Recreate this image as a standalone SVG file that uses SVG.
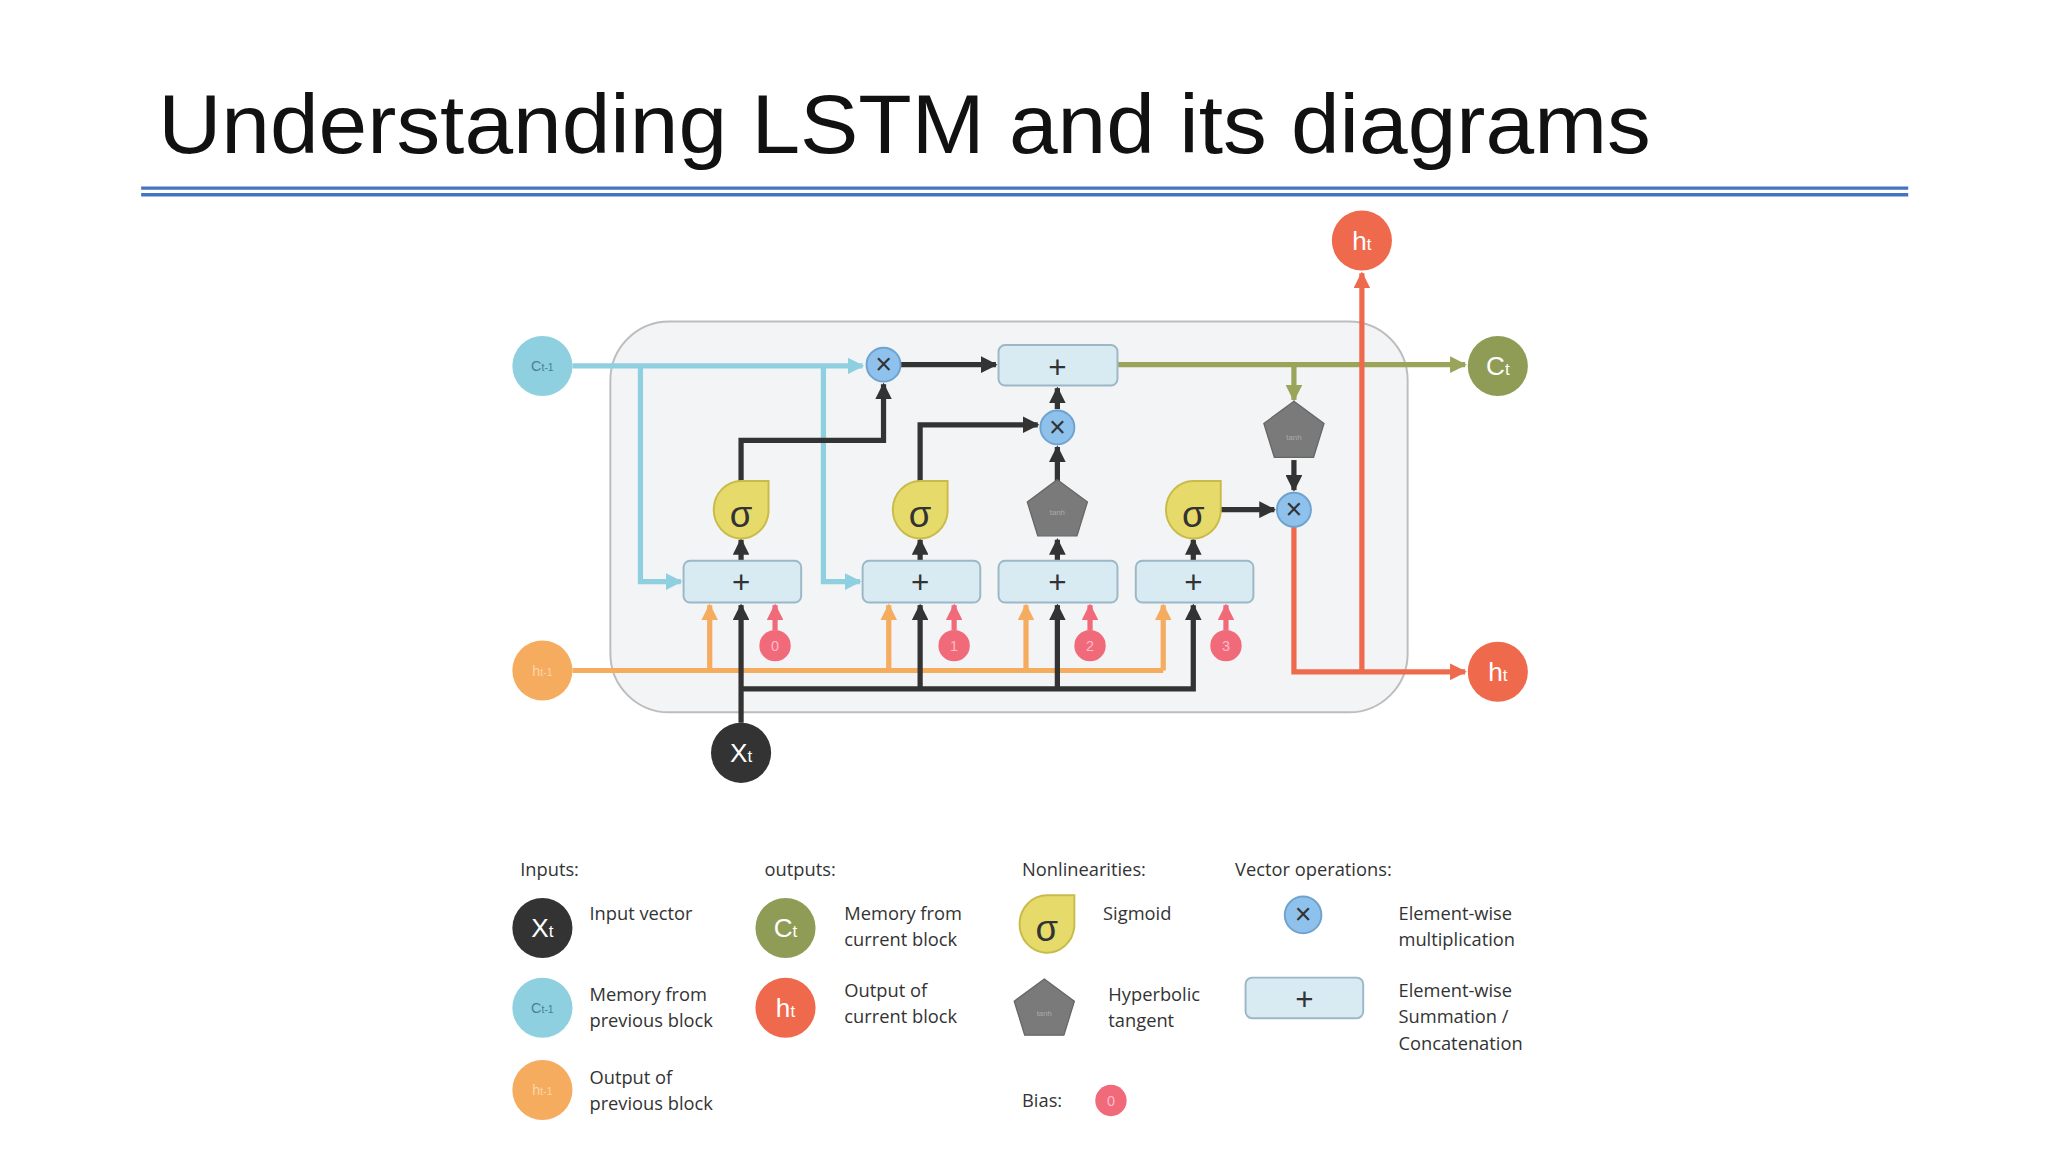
<svg xmlns="http://www.w3.org/2000/svg" width="2048" height="1152" viewBox="0 0 2048 1152">
<style>
text{font-family:"Liberation Sans","DejaVu Sans",sans-serif}
.lg{font-family:"Open Sans","Liberation Sans",sans-serif;font-size:14px;fill:#333}
.ln{fill:none;stroke-width:4;stroke-linejoin:miter}
.bl{stroke:#8fd0e0}.bk{stroke:#333}.ol{stroke:#9aa55a}.rd{stroke:#ef6a4c}.or{stroke:#f5ac5e}.pk{stroke:#f06a7a}
.box{fill:#d8ebf3;stroke:#9cb8c6;stroke-width:1.5}
.sig{fill:#e6db6a;stroke:#c9bb4a;stroke-width:1.5}
.pent{fill:#7a7a7a;stroke:#666;stroke-width:1}
.mul{fill:#8ec2ec;stroke:#6fa3cf;stroke-width:1.5}
.bias{fill:#f06a7a}
.ct{fill:#fff;text-anchor:middle}
.x{font-size:22px;fill:#333;text-anchor:middle}
</style>
<defs>
<marker id="aBl" viewBox="0 0 10 10" refX="9" refY="5" markerWidth="3.2" markerHeight="3.2" orient="auto" markerUnits="strokeWidth"><path d="M0,0L10,5L0,10z" fill="#8fd0e0"/></marker>
<marker id="aBk" viewBox="0 0 10 10" refX="9" refY="5" markerWidth="3.2" markerHeight="3.2" orient="auto" markerUnits="strokeWidth"><path d="M0,0L10,5L0,10z" fill="#333"/></marker>
<marker id="aOl" viewBox="0 0 10 10" refX="9" refY="5" markerWidth="3.2" markerHeight="3.2" orient="auto" markerUnits="strokeWidth"><path d="M0,0L10,5L0,10z" fill="#9aa55a"/></marker>
<marker id="aRd" viewBox="0 0 10 10" refX="9" refY="5" markerWidth="3.2" markerHeight="3.2" orient="auto" markerUnits="strokeWidth"><path d="M0,0L10,5L0,10z" fill="#ef6a4c"/></marker>
<marker id="aOr" viewBox="0 0 10 10" refX="9" refY="5" markerWidth="3.2" markerHeight="3.2" orient="auto" markerUnits="strokeWidth"><path d="M0,0L10,5L0,10z" fill="#f5ac5e"/></marker>
<marker id="aPk" viewBox="0 0 10 10" refX="9" refY="5" markerWidth="3.2" markerHeight="3.2" orient="auto" markerUnits="strokeWidth"><path d="M0,0L10,5L0,10z" fill="#f06a7a"/></marker>
<path id="sigShape" d="M0,-24 L21,-24 L21,0 A21,22 0 1 1 0,-24 Z"/>
<polygon id="pentShape" points="0,-23 23,-6 15,20 -15,20 -23,-6"/>
</defs>
<rect width="2048" height="1152" fill="#fff"/>
<g transform="scale(1.307)">
<g id="title">
<text x="121" y="117" font-size="64" fill="#111" textLength="1142" lengthAdjust="spacingAndGlyphs">Understanding LSTM and its diagrams</text>
<line x1="108" y1="144" x2="1460" y2="144" stroke="#4472c4" stroke-width="2.5"/>
<line x1="108" y1="149" x2="1460" y2="149" stroke="#4472c4" stroke-width="2.5"/>
</g>
<g id="cell"><rect x="467" y="246" width="610" height="299" rx="45" fill="#f3f4f6" stroke="#bdbdbd" stroke-width="1.5"/></g>
<g id="connectors">
<path class="ln bl" d="M438,280 H660" marker-end="url(#aBl)"/>
<path class="ln bl" d="M490,280 V445 H521" marker-end="url(#aBl)"/>
<path class="ln bl" d="M630,280 V445 H658" marker-end="url(#aBl)"/>
<path class="ln bk" d="M689,279 H762" marker-end="url(#aBk)"/>
<path class="ln bk" d="M567,368 V337 H676 V294" marker-end="url(#aBk)"/>
<path class="ln bk" d="M704,368 V325 H794" marker-end="url(#aBk)"/>
<path class="ln bk" d="M809,368 V342" marker-end="url(#aBk)"/>
<path class="ln bk" d="M809,313 V297" marker-end="url(#aBk)"/>
<path class="ln bk" d="M567,429 V413" marker-end="url(#aBk)"/>
<path class="ln bk" d="M704,429 V413" marker-end="url(#aBk)"/>
<path class="ln bk" d="M809,429 V413" marker-end="url(#aBk)"/>
<path class="ln bk" d="M913,429 V413" marker-end="url(#aBk)"/>
<path class="ln bk" d="M934,390 H975" marker-end="url(#aBk)"/>
<path class="ln bk" d="M990,352 V375" marker-end="url(#aBk)"/>
<path class="ln ol" d="M855,279 H1121" marker-end="url(#aOl)"/>
<path class="ln ol" d="M990,279 V306" marker-end="url(#aOl)"/>
<path class="ln rd" d="M990,403 V514 H1121" marker-end="url(#aRd)"/>
<path class="ln rd" d="M1042,514 V209" marker-end="url(#aRd)"/>
<path class="ln or" d="M438,513 H890"/>
<path class="ln or" d="M543,513 V463" marker-end="url(#aOr)"/>
<path class="ln or" d="M680,513 V463" marker-end="url(#aOr)"/>
<path class="ln or" d="M785,513 V463" marker-end="url(#aOr)"/>
<path class="ln or" d="M890,513 V463" marker-end="url(#aOr)"/>
<path class="ln bk" d="M567,553 V463" marker-end="url(#aBk)"/>
<path class="ln bk" d="M567,527 H913 V463" marker-end="url(#aBk)"/>
<path class="ln bk" d="M704,527 V463" marker-end="url(#aBk)"/>
<path class="ln bk" d="M809,527 V463" marker-end="url(#aBk)"/>
<path class="ln pk" d="M593,482 V463" marker-end="url(#aPk)"/>
<path class="ln pk" d="M730,482 V463" marker-end="url(#aPk)"/>
<path class="ln pk" d="M834,482 V463" marker-end="url(#aPk)"/>
<path class="ln pk" d="M938,482 V463" marker-end="url(#aPk)"/>
</g>
<g id="inputs">
<g id="n-ct1"><circle cx="415" cy="280" r="23" fill="#8fd0e0"/><text x="415" y="284" font-size="11" fill="#4a7f92" text-anchor="middle">C<tspan font-size="8">t-1</tspan></text></g>
<g id="n-ht1"><circle cx="415" cy="513" r="23" fill="#f5ac5e"/><text x="415" y="517" font-size="11" fill="#fbd6a8" text-anchor="middle">h<tspan font-size="8">t-1</tspan></text></g>
<g id="n-xt"><circle cx="567" cy="576" r="23" fill="#333"/><text class="ct" x="567" y="583" font-size="20">X<tspan font-size="13">t</tspan></text></g>
<g id="n-ct"><circle cx="1146" cy="280" r="23" fill="#8f9c55"/><text class="ct" x="1146" y="287" font-size="20">C<tspan font-size="13">t</tspan></text></g>
<g id="n-ht"><circle cx="1146" cy="514" r="23" fill="#ef6a4c"/><text class="ct" x="1146" y="521" font-size="20">h<tspan font-size="13">t</tspan></text></g>
<g id="n-httop"><circle cx="1042" cy="184" r="23" fill="#ef6a4c"/><text class="ct" x="1042" y="191" font-size="20">h<tspan font-size="13">t</tspan></text></g>
</g>
<g id="ops">
<g id="p-top"><rect class="box" x="764" y="264" width="91" height="31" rx="5"/><text x="809" y="289" font-size="24" fill="#333" text-anchor="middle">+</text></g>
<g id="p1"><rect class="box" x="523" y="429" width="90" height="32" rx="5"/><text x="567" y="454" font-size="24" fill="#333" text-anchor="middle">+</text></g>
<g id="p2"><rect class="box" x="660" y="429" width="90" height="32" rx="5"/><text x="704" y="454" font-size="24" fill="#333" text-anchor="middle">+</text></g>
<g id="p3"><rect class="box" x="764" y="429" width="91" height="32" rx="5"/><text x="809" y="454" font-size="24" fill="#333" text-anchor="middle">+</text></g>
<g id="p4"><rect class="box" x="869" y="429" width="90" height="32" rx="5"/><text x="913" y="454" font-size="24" fill="#333" text-anchor="middle">+</text></g>
<g id="s1"><use href="#sigShape" class="sig" x="567" y="392"/><text x="567" y="403" font-size="28" fill="#333" text-anchor="middle">σ</text></g>
<g id="s2"><use href="#sigShape" class="sig" x="704" y="392"/><text x="704" y="403" font-size="28" fill="#333" text-anchor="middle">σ</text></g>
<g id="s3"><use href="#sigShape" class="sig" x="913" y="392"/><text x="913" y="403" font-size="28" fill="#333" text-anchor="middle">σ</text></g>
<g id="t1"><use href="#pentShape" class="pent" x="809" y="390"/><text x="809" y="394" font-size="6" fill="#aaa" text-anchor="middle">tanh</text></g>
<g id="t2"><use href="#pentShape" class="pent" x="990" y="330"/><text x="990" y="337" font-size="6" fill="#aaa" text-anchor="middle">tanh</text></g>
<g id="m1"><circle class="mul" cx="676" cy="279" r="13"/><text class="x" x="676" y="286">×</text></g>
<g id="m2"><circle class="mul" cx="809" cy="327" r="13"/><text class="x" x="809" y="334">×</text></g>
<g id="m3"><circle class="mul" cx="990" cy="390" r="13"/><text class="x" x="990" y="397">×</text></g>
<g id="b0"><circle class="bias" cx="593" cy="494" r="12"/><text x="593" y="498" font-size="11" fill="#fbc" text-anchor="middle">0</text></g>
<g id="b1"><circle class="bias" cx="730" cy="494" r="12"/><text x="730" y="498" font-size="11" fill="#fbc" text-anchor="middle">1</text></g>
<g id="b2"><circle class="bias" cx="834" cy="494" r="12"/><text x="834" y="498" font-size="11" fill="#fbc" text-anchor="middle">2</text></g>
<g id="b3"><circle class="bias" cx="938" cy="494" r="12"/><text x="938" y="498" font-size="11" fill="#fbc" text-anchor="middle">3</text></g>
</g>
<g id="legend">
<text class="lg" x="398" y="670">Inputs:</text>
<text class="lg" x="585" y="670">outputs:</text>
<text class="lg" x="782" y="670">Nonlinearities:</text>
<text class="lg" x="945" y="670">Vector operations:</text>
<circle cx="415" cy="710" r="23" fill="#333"/><text class="ct" x="415" y="717" font-size="20">X<tspan font-size="13">t</tspan></text>
<text class="lg" x="451" y="704">Input vector</text>
<circle cx="415" cy="771" r="23" fill="#8fd0e0"/><text x="415" y="775" font-size="11" fill="#4a7f92" text-anchor="middle">C<tspan font-size="8">t-1</tspan></text>
<text class="lg" x="451" y="766">Memory from</text><text class="lg" x="451" y="786">previous block</text>
<circle cx="415" cy="834" r="23" fill="#f5ac5e"/><text x="415" y="838" font-size="11" fill="#fbd6a8" text-anchor="middle">h<tspan font-size="8">t-1</tspan></text>
<text class="lg" x="451" y="829">Output of</text><text class="lg" x="451" y="849">previous block</text>
<circle cx="601" cy="710" r="23" fill="#8f9c55"/><text class="ct" x="601" y="717" font-size="20">C<tspan font-size="13">t</tspan></text>
<text class="lg" x="646" y="704">Memory from</text><text class="lg" x="646" y="724">current block</text>
<circle cx="601" cy="771" r="23" fill="#ef6a4c"/><text class="ct" x="601" y="778" font-size="20">h<tspan font-size="13">t</tspan></text>
<text class="lg" x="646" y="763">Output of</text><text class="lg" x="646" y="783">current block</text>
<use href="#sigShape" class="sig" x="801" y="709"/><text x="801" y="720" font-size="28" fill="#333" text-anchor="middle">σ</text>
<text class="lg" x="844" y="704">Sigmoid</text>
<use href="#pentShape" class="pent" x="799" y="772"/><text x="799" y="777" font-size="6" fill="#aaa" text-anchor="middle">tanh</text>
<text class="lg" x="848" y="766">Hyperbolic</text><text class="lg" x="848" y="786">tangent</text>
<text class="lg" x="782" y="847">Bias:</text>
<circle class="bias" cx="850" cy="842" r="12"/><text x="850" y="846" font-size="11" fill="#fbc" text-anchor="middle">0</text>
<circle class="mul" cx="997" cy="700" r="14"/><text class="x" x="997" y="707">×</text>
<text class="lg" x="1070" y="704">Element-wise</text><text class="lg" x="1070" y="724">multiplication</text>
<rect class="box" x="953" y="748" width="90" height="31" rx="5"/><text x="998" y="773" font-size="24" fill="#333" text-anchor="middle">+</text>
<text class="lg" x="1070" y="763">Element-wise</text><text class="lg" x="1070" y="783">Summation /</text><text class="lg" x="1070" y="803">Concatenation</text>
</g>
</g>
</svg>
